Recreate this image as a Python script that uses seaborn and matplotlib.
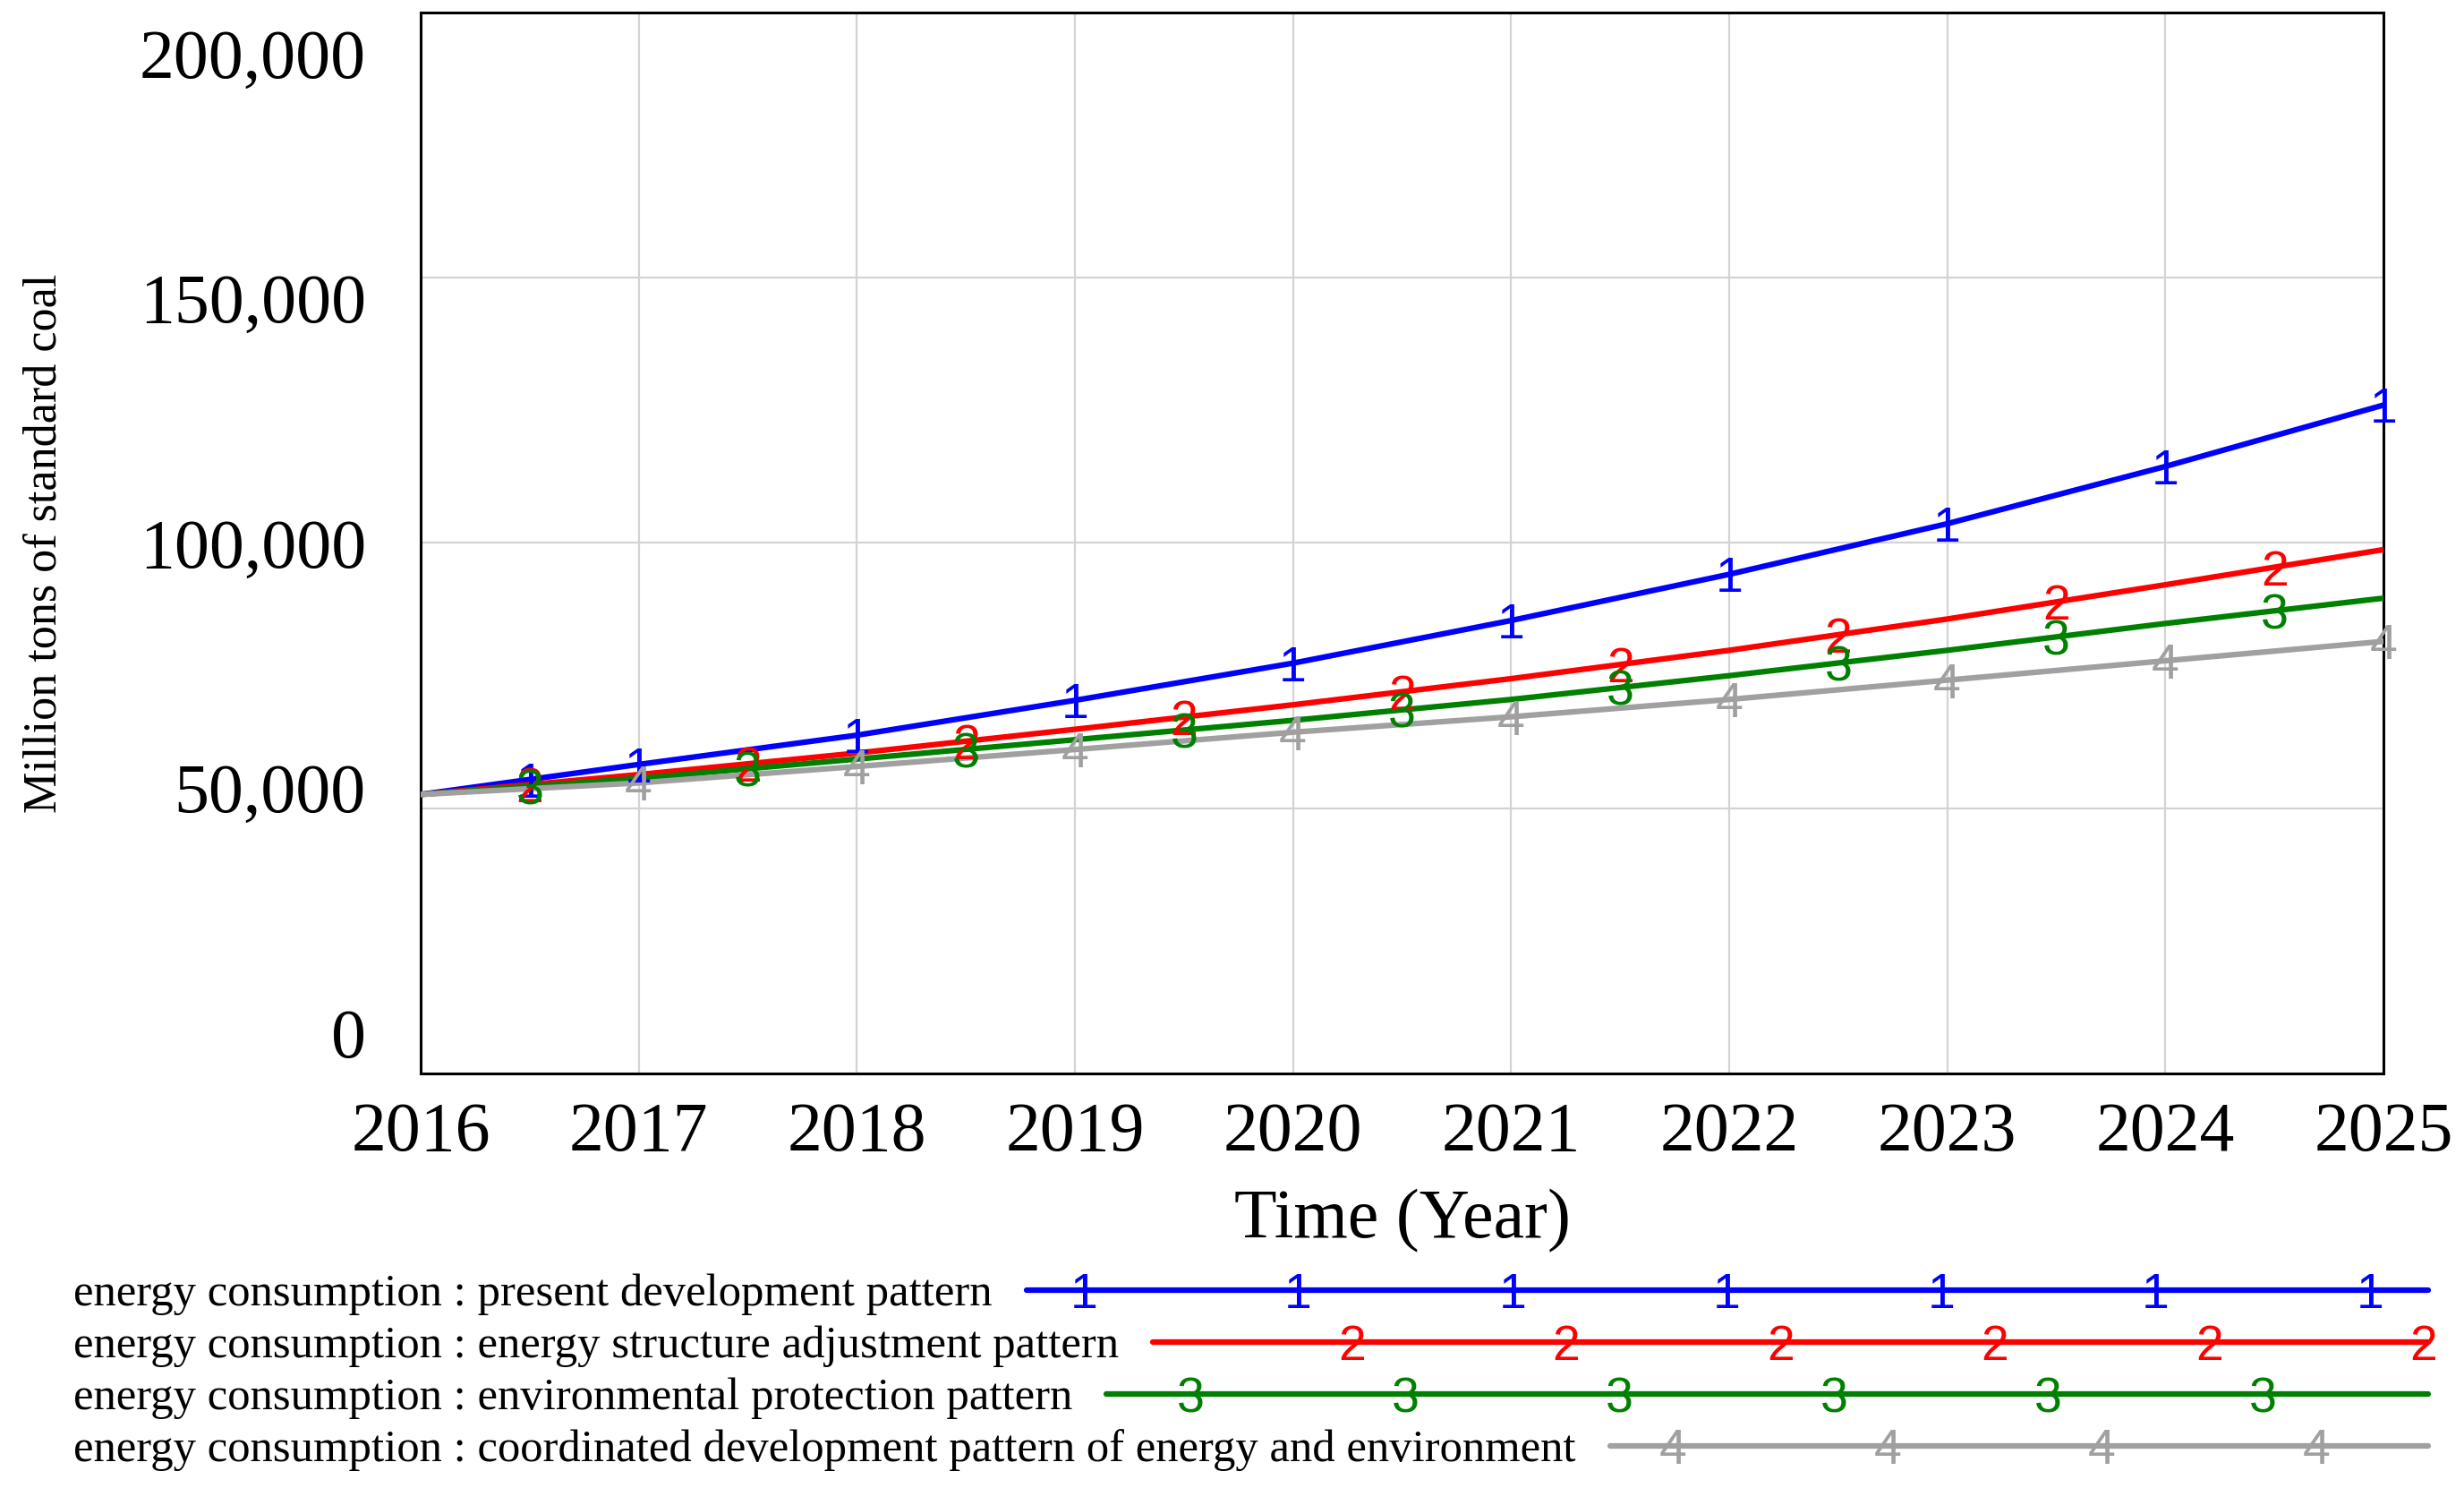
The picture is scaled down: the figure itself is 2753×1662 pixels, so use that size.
import numpy as np
import pandas as pd
import matplotlib
matplotlib.use("Agg")
import matplotlib.pyplot as plt
from matplotlib.lines import Line2D
import seaborn as sns

# ---------------- data ----------------
years = [2016, 2017, 2018, 2019, 2020, 2021, 2022, 2023, 2024, 2025]
present = [52600, 58260, 63770, 70340, 77350, 85390, 94100, 103640, 114430, 126000]
structure = [52600, 56350, 60400, 64880, 69500, 74430, 79770, 85670, 92130, 98750]
environment = [52600, 55610, 59270, 62920, 66570, 70510, 74990, 79770, 84830, 89600]
coordinated = [52600, 54770, 57870, 61070, 64330, 67240, 70510, 74150, 77800, 81450]

series_names = [
    "energy consumption : present development pattern",
    "energy consumption : energy structure adjustment pattern",
    "energy consumption : environmental protection pattern",
    "energy consumption : coordinated development pattern of energy and environment",
]
series_ids = ["1", "2", "3", "4"]
colors = ["#0000FF", "#FF0000", "#008000", "#A0A0A0"]
yticks = [0, 50000, 100000, 150000, 200000]
ytick_labels = ["0", "50,000", "100,000", "150,000", "200,000"]
xlabel = "Time (Year)"
ylabel = "Million tons of standard coal"

values = [present, structure, environment, coordinated]
df = pd.DataFrame({
    "Year": years * 4,
    "Value": present + structure + environment + coordinated,
    "Series": [n for n in series_names for _ in years],
})

# ---------------- style ----------------
sns.set_theme(style="white")
plt.rcParams["font.family"] = ["Liberation Serif", "DejaVu Serif"]
for k in ["text.color", "axes.labelcolor", "xtick.color", "ytick.color"]:
    plt.rcParams[k] = "black"

W, H = 2753, 1662
fig = plt.figure(figsize=(W / 100, H / 100), dpi=100)
left, right, top, bottom = 470, 2663, 14, 1199
ax = fig.add_axes([left / W, 1 - bottom / H, (right - left) / W, (bottom - top) / H])

sns.lineplot(data=df, x="Year", y="Value", hue="Series", hue_order=series_names,
             palette=dict(zip(series_names, colors)), linewidth=4.5,
             estimator=None, sort=False, legend=False, ax=ax, zorder=3)

ax.set_xlim(years[0], years[-1])
ax.set_ylim(yticks[0], yticks[-1])

# x ticks
ax.set_xticks(years)
ax.set_xticklabels([str(y) for y in years])
ax.tick_params(axis="x", length=0, pad=23, labelsize=56)

# y: gridlines at major ticks, labels (Vensim-style compressed) on minor ticks
mid = (yticks[0] + yticks[-1]) / 2
ax.yaxis.remove_overlapping_locs = False
ax.set_yticks(yticks)
ax.set_yticklabels([""] * len(yticks))
ax.set_yticks([mid + (v - mid) * 0.923 for v in yticks], ytick_labels, minor=True)
ax.tick_params(axis="y", which="both", length=0, pad=44, labelsize=56)

ax.grid(True, which="major", color="#D3D3D3", linewidth=1.6, zorder=0)
ax.set_axisbelow(True)
for s in ax.spines.values():
    s.set_visible(True)
    s.set_color("black")
    s.set_linewidth(2.2)

ax.set_xlabel(xlabel, fontsize=56, labelpad=18, color="black")
ax.set_ylabel(ylabel, fontsize=37.5, color="black")
ax.yaxis.set_label_coords(-0.181, 0.5)

# numbered markers on the curves
int_years = years[1:]
half_years = [(a + b) / 2 for a, b in zip(years[:-1], years[1:])]
marker_years = [
    [half_years[0]] + int_years,
    half_years,
    half_years,
    int_years,
]
for vals, sid, col, mys in zip(values, series_ids, colors, marker_years):
    for x in mys:
        ax.text(x, np.interp(x, years, vals), sid, color=col, fontsize=40,
                family=["Liberation Sans", "DejaVu Sans"], ha="center",
                va="center_baseline", zorder=5, clip_on=False)

# ---------------- legend (bottom) ----------------
row_lines = [1441, 1499, 1557, 1615]
text_x = 82
line_end = 2713
num_x0, num_step = 1211, 239.5
fig.canvas.draw()
renderer = fig.canvas.get_renderer()
for i, (name, sid, col, ly) in enumerate(zip(series_names, series_ids, colors, row_lines)):
    t = fig.text(text_x / W, 1 - (ly + 17) / H, name, fontsize=36.5, color="black",
                 ha="left", va="baseline")
    ext = t.get_window_extent(renderer)
    lx0 = ext.x1 + 38
    fig.add_artist(Line2D([lx0 / W, line_end / W], [1 - ly / H, 1 - ly / H],
                          transform=fig.transFigure, color=col, linewidth=4.5))
    xs = num_x0 + i * num_step / 4
    while xs <= line_end:
        if xs >= lx0 + 8:
            fig.text(xs / W, 1 - ly / H, sid, color=col, fontsize=40,
                     family=["Liberation Sans", "DejaVu Sans"], ha="center",
                     va="center_baseline")
        xs += num_step

fig.savefig("out.png", dpi=100, facecolor="white")
